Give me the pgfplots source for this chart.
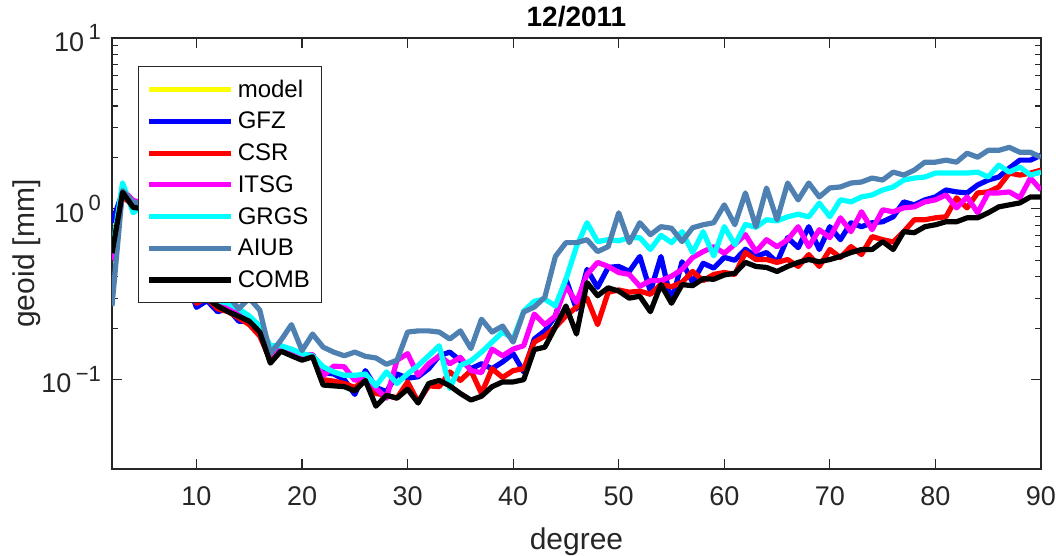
\documentclass[border=0pt]{standalone}
\usepackage{pgfplots}
\pgfplotsset{compat=1.18}
\usepackage{pgfplotstable}
\usepackage{fontspec}
\setmainfont{Liberation Sans}
\definecolor{axgray}{RGB}{38,38,38}
\definecolor{aiub}{RGB}{78,128,178}
\definecolor{mmag}{RGB}{255,0,255}
\definecolor{mcyan}{RGB}{0,255,255}
\definecolor{mblue}{RGB}{0,0,255}
\definecolor{mred}{RGB}{255,0,0}
\definecolor{myellow}{RGB}{255,255,0}
\newcommand\tp[1]{10\,\raisebox{0.8ex}{\fontsize{11pt}{12pt}\selectfont #1}}
\pgfplotstableread{
d gfz csr itsg grgs aiub comb
2 0.83 0.55 0.50 0.55 0.27 0.55
3 1.25 1.18 1.30 1.42 1.28 1.25
4 1.10 1.05 1.12 0.95 1.10 1.02
5 1.05 1.00 1.08 1.05 1.05 1.00
6 0.95 0.90 0.95 0.95 0.95 0.90
7 0.80 0.75 0.80 0.80 0.80 0.75
8 0.60 0.58 0.60 0.62 0.65 0.60
9 0.40 0.40 0.42 0.45 0.50 0.42
10 0.265 0.28 0.29 0.31 0.38 0.29
11 0.29 0.30 0.30 0.31 0.36 0.30
12 0.25 0.26 0.28 0.29 0.33 0.27
13 0.26 0.25 0.27 0.28 0.31 0.25
14 0.22 0.23 0.24 0.26 0.26 0.235
15 0.22 0.21 0.225 0.236 0.30 0.22
16 0.20 0.18 0.19 0.206 0.255 0.19
17 0.14 0.13 0.14 0.158 0.142 0.125
18 0.155 0.15 0.158 0.158 0.17 0.147
19 0.145 0.14 0.145 0.151 0.21 0.138
20 0.138 0.135 0.14 0.142 0.148 0.13
21 0.14 0.138 0.14 0.138 0.185 0.136
22 0.11 0.10 0.105 0.119 0.155 0.093
23 0.108 0.098 0.12 0.111 0.145 0.092
24 0.10 0.095 0.119 0.106 0.138 0.091
25 0.082 0.09 0.099 0.106 0.145 0.086
26 0.113 0.10 0.105 0.108 0.137 0.099
27 0.09 0.083 0.089 0.092 0.134 0.070
28 0.085 0.081 0.078 0.111 0.123 0.081
29 0.108 0.078 0.13 0.095 0.13 0.078
30 0.102 0.097 0.142 0.108 0.19 0.088
31 0.104 0.074 0.106 0.121 0.193 0.073
32 0.116 0.092 0.124 0.138 0.193 0.095
33 0.138 0.091 0.138 0.158 0.19 0.099
34 0.145 0.111 0.124 0.089 0.173 0.092
35 0.129 0.099 0.135 0.121 0.193 0.083
36 0.116 0.113 0.113 0.129 0.152 0.076
37 0.124 0.083 0.11 0.145 0.226 0.080
38 0.116 0.116 0.151 0.166 0.19 0.091
39 0.127 0.103 0.138 0.19 0.206 0.097
40 0.142 0.113 0.151 0.173 0.166 0.097
41 0.111 0.116 0.158 0.252 0.249 0.10
42 0.173 0.166 0.242 0.288 0.266 0.15
43 0.193 0.18 0.21 0.296 0.304 0.155
44 0.236 0.203 0.236 0.27 0.526 0.203
45 0.387 0.236 0.352 0.387 0.634 0.27
46 0.259 0.266 0.284 0.601 0.634 0.185
47 0.442 0.30 0.413 0.829 0.66 0.37
48 0.347 0.21 0.486 0.643 0.562 0.31
49 0.454 0.325 0.46 0.66 0.601 0.345
50 0.46 0.335 0.424 0.65 0.948 0.33
51 0.43 0.325 0.413 0.678 0.634 0.30
52 0.526 0.33 0.352 0.678 0.829 0.308
53 0.329 0.316 0.38 0.578 0.706 0.25
54 0.526 0.362 0.38 0.70 0.786 0.36
55 0.284 0.35 0.403 0.634 0.77 0.28
56 0.49 0.372 0.442 0.735 0.643 0.36
57 0.372 0.43 0.519 0.555 0.775 0.355
58 0.48 0.38 0.562 0.735 0.807 0.39
59 0.45 0.413 0.60 0.53 0.829 0.387
60 0.52 0.424 0.55 0.786 1.055 0.41
61 0.50 0.413 0.62 0.617 0.807 0.42
62 0.58 0.555 0.706 0.81 1.239 0.486
63 0.526 0.505 0.562 0.78 0.786 0.46
64 0.555 0.505 0.66 0.863 1.325 0.454
65 0.486 0.486 0.60 0.85 0.863 0.43
66 0.678 0.505 0.66 0.898 1.416 0.46
67 0.593 0.46 0.786 0.93 1.128 0.486
68 0.786 0.54 0.60 0.898 1.416 0.505
69 0.578 0.46 0.755 1.08 1.174 0.49
70 0.786 0.578 0.678 0.90 1.325 0.505
71 0.66 0.519 0.886 1.13 1.343 0.526
72 0.829 0.601 0.735 1.098 1.416 0.555
73 0.786 0.54 0.961 1.174 1.436 0.578
74 0.829 0.688 0.755 1.206 1.514 0.578
75 0.84 0.66 0.987 1.289 1.474 0.643
76 0.898 0.64 0.961 1.343 1.641 0.578
77 1.098 0.735 1.013 1.474 1.576 0.735
78 1.055 0.863 1.027 1.514 1.685 0.725
79 1.128 0.863 1.098 1.535 1.876 0.786
80 1.174 0.886 1.128 1.619 1.876 0.807
81 1.289 0.898 1.206 1.619 1.928 0.84
82 1.256 1.159 1.013 1.619 1.876 0.84
83 1.239 1.013 1.174 1.619 2.116 0.886
84 1.379 1.239 0.948 1.641 2.005 0.886
85 1.474 1.256 1.239 1.535 2.2 0.948
86 1.535 1.343 1.239 1.802 2.2 1.027
87 1.732 1.619 1.256 1.641 2.29 1.055
88 1.928 1.576 1.159 1.755 2.143 1.083
89 1.928 1.619 1.514 1.576 2.143 1.174
90 2.06 1.685 1.289 1.641 2.005 1.174
}\datatab
\begin{document}
\begin{tikzpicture}
\begin{semilogyaxis}[
  scale only axis,
  width=464.5pt, height=215.5pt,
  xmin=2, xmax=90, ymin=0.03, ymax=10,
  xtick={10,20,30,40,50,60,70,80,90},
  ytick={0.1,1,10},
  yticklabels={\tp{−1},\tp{0},\tp{1}},
  tick align=inside,
  major tick length=5pt, minor tick length=3pt,
  axis line style={axgray, line width=0.6pt},
  every tick/.style={axgray, line width=0.6pt},
  tick label style={axgray, font=\fontsize{13.5pt}{16pt}\selectfont},
  /pgf/number format/assume math mode=true,
  xticklabel style={yshift=-5.5pt},
  yticklabel style={xshift=-2pt},
  xlabel={degree}, ylabel={geoid [mm]},
  label style={axgray, font=\fontsize{15pt}{18pt}\selectfont},
  xlabel shift=4pt,
  ylabel shift=-6.5pt,
  title={\bfseries 12/2011},
  title style={font=\fontsize{14pt}{16pt}\selectfont, yshift=-4pt},
  legend cell align=left,
  legend style={at={(0.028,0.935)}, anchor=north west, draw=axgray, line width=0.6pt,
    fill=white, font=\fontsize{12pt}{14pt}\selectfont, row sep=2.5pt,
    inner xsep=4pt, inner ysep=4.5pt,
    nodes={inner sep=2pt, text depth=1pt}},
  legend image code/.code={\draw[#1] (0pt,0pt) -- (41pt,0pt);},
  every axis plot/.append style={line width=2.6pt, line join=round},
]
\addlegendimage{myellow, line width=2.6pt}
\addplot[mblue] table[x=d, y=gfz] {\datatab};
\addplot[mred] table[x=d, y=csr] {\datatab};
\addplot[mmag] table[x=d, y=itsg] {\datatab};
\addplot[mcyan] table[x=d, y=grgs] {\datatab};
\addplot[aiub] table[x=d, y=aiub] {\datatab};
\addplot[black] table[x=d, y=comb] {\datatab};
\legend{model,GFZ,CSR,ITSG,GRGS,AIUB,COMB}
\end{semilogyaxis}
\pgfresetboundingbox
\path[use as bounding box] (-56pt,-43.5pt) rectangle (472pt,234.5pt);
\end{tikzpicture}
\end{document}
